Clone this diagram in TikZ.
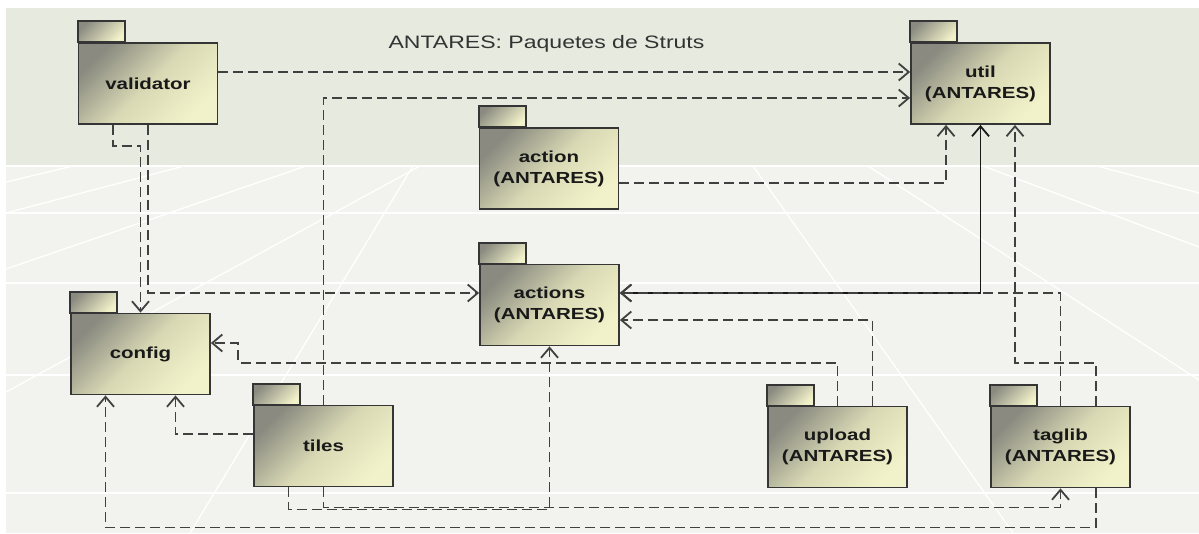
\documentclass[tikz,border=0pt]{standalone}
\usepackage{fontspec}
\setmainfont{Liberation Sans}
\newfontfamily\pkgfont[FakeStretch=1.28]{Liberation Sans}
\usetikzlibrary{arrows.meta}
\definecolor{bandtop}{HTML}{E7EADF}
\definecolor{floor}{HTML}{F2F3EE}
\definecolor{pkgdark}{HTML}{8A8A80}
\definecolor{pkgmid}{HTML}{D8D8B4}
\definecolor{pkglight}{HTML}{F2F2CA}
\definecolor{pkgline}{HTML}{353535}
\definecolor{depline}{HTML}{404040}

\begin{document}
\begin{tikzpicture}[x=1pt, y=-1pt, >={Straight Barb[length=10pt,width=17pt]},
  pkg/.style={draw=pkgline, line width=1.8pt, top color=pkgdark, bottom color=pkglight, middle color=pkgmid, shading angle=45, minimum width=139pt, minimum height=81pt, inner sep=0pt, align=center, text=black!90, font=\pkgfont\bfseries\fontsize{16}{21}\selectfont},
  pkgtab/.style={draw=pkgline, line width=1.8pt, top color=pkgdark, bottom color=pkglight, shading angle=45},
  dep/.style={draw=depline, line width=1.8pt, dash pattern=on 10pt off 5pt, ->},
  floorline/.style={white, line width=1.3pt}]
\useasboundingbox (0,0) rectangle (1199,533);
\fill[floor] (6,8) rectangle (1199,533);
\fill[bandtop] (6,8) rectangle (1199,166);
% floor grid
\foreach \y in {166,213,283,375,493}
  \draw[floorline] (6,\y) -- (1199,\y);
\draw[floorline] (6,182) -- (73,166);
\draw[floorline] (6,213) -- (184,166);
\draw[floorline] (6,269) -- (306,166);
\draw[floorline] (6,392) -- (420,166);
\draw[floorline] (413,166) -- (190,533);
\draw[floorline] (753,166) -- (1013,533);
\draw[floorline] (868,166) -- (1199,380);
\draw[floorline] (983,166) -- (1199,247);
\draw[floorline] (1097,166) -- (1199,193);

\node[font=\pkgfont\fontsize{18}{22}\selectfont, text=black!80, anchor=base] (title) at (546.5,48) {ANTARES: Paquetes de Struts};

\node[pkg] (validator) at (148,83.5) {validator};
\node[pkg] (util) at (980.5,83.5) {util\\(ANTARES)};
\node[pkg] (action) at (549,168.5) {action\\(ANTARES)};
\node[pkg] (actions) at (549.5,305) {actions\\(ANTARES)};
\node[pkg] (config) at (140.5,354) {config};
\node[pkg] (tiles) at (323.5,446) {tiles};
\node[pkg] (upload) at (837.5,447) {upload\\(ANTARES)};
\node[pkg] (taglib) at (1060.5,447) {taglib\\(ANTARES)};
\foreach \p in {validator,util,action,actions,config,tiles,upload,taglib}
  \draw[pkgtab] (\p.north west) rectangle ++(47,-21);

\draw[dep] ([yshift=11.5]validator.east) -- ([yshift=11.5]util.west);
\draw[dep] (tiles.north) |- ([yshift=-14.5]util.west);
\draw[dep] ([yshift=-14.5]action.east) -| ([xshift=-34.5]util.south);
\draw[<->, draw=black!90, line width=1.8pt] (util.south) |- ([yshift=12]actions.east);
\draw[dep] ([xshift=35.5]taglib.north) -- ++(0,-43) -| ([xshift=34.5]util.south);
\draw[dep] (taglib.north) |- ([yshift=12]actions.east);
\draw[dep] ([xshift=35]upload.north) |- ([yshift=-15]actions.east);
\draw[dep] (upload.north) -- ++(0,-43) -| ([xshift=27,yshift=11]config.east) -- ([yshift=11]config.east);
\draw[dep] ([xshift=-35]validator.south) -- ++(0,21) -| (config.north);
\draw[dep] (validator.south) |- ([yshift=12]actions.west);
\draw[dep] ([yshift=12]tiles.west) -| ([xshift=35]config.south);
\draw[dep] ([xshift=-35]tiles.south) -- ++(0,22) -| (actions.south);
\draw[dep] (tiles.south) -- ++(0,20) -| (taglib.south);
\draw[dep] ([xshift=35.5]taglib.south) -- ++(0,39) -| ([xshift=-35]config.south);
\end{tikzpicture}
\end{document}
